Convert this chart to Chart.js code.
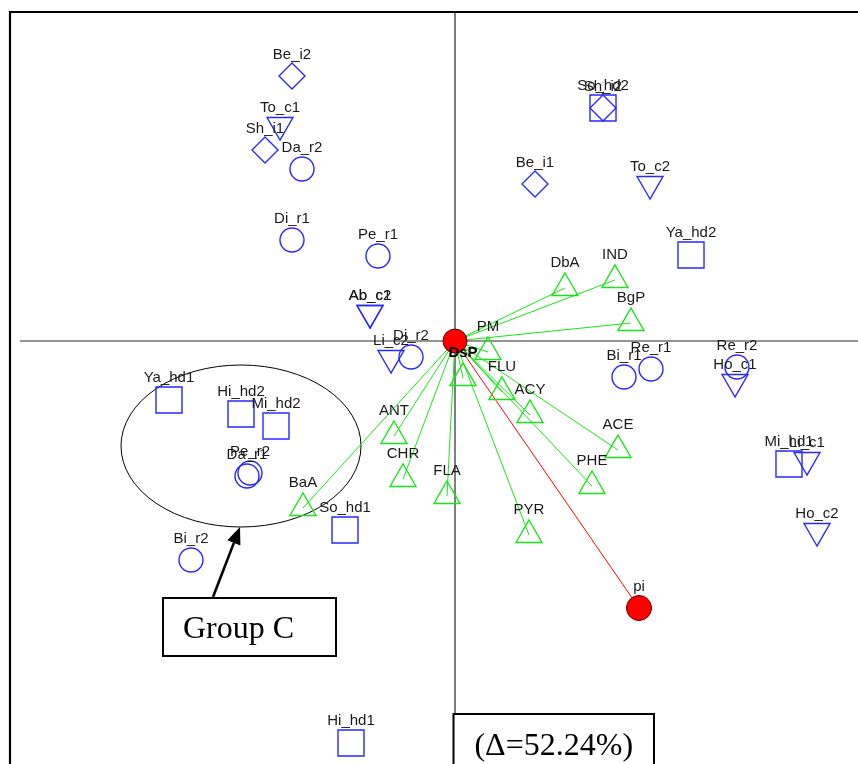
<!DOCTYPE html>
<html>
<head>
<meta charset="utf-8">
<script src="https://cdn.jsdelivr.net/npm/chart.js@4.4.1/dist/chart.umd.min.js"></script>
<style>
  html, body { margin: 0; padding: 0; background: #fff; }
  #wrap { width: 858px; height: 764px; position: relative; }
</style>
</head>
<body>
<div id="wrap"><canvas id="biplot"></canvas></div>
<script>
// Sample scores, grouped by marker shape (biplot units)
const circleNames = ['Da_r2', 'Di_r1', 'Pe_r1', 'Di_r2', 'Bi_r1', 'Re_r1', 'Re_r2', 'Pe_r2', 'Da_r1', 'Bi_r2'];
const circleX = [-1.53, -1.63, -0.77, -0.44, 1.69, 1.96, 2.82, -2.05, -2.08, -2.64];
const circleY = [1.72, 1.01, 0.85, -0.16, -0.36, -0.28, -0.26, -1.32, -1.35, -2.19];

const squareNames = ['So_hd2', 'Ya_hd2', 'Mi_hd1', 'Ya_hd1', 'Hi_hd2', 'Mi_hd2', 'So_hd1', 'Hi_hd1'];
const squareX = [1.48, 2.36, 3.34, -2.86, -2.14, -1.79, -1.10, -1.04];
const squareY = [2.33, 0.86, -1.23, -0.59, -0.73, -0.85, -1.89, -4.02];

const diamondNames = ['Be_i2', 'Sh_i1', 'Sh_i2', 'Be_i1'];
const diamondX = [-1.63, -1.90, 1.48, 0.80];
const diamondY = [2.65, 1.91, 2.33, 1.57];

const downTriNames = ['To_c1', 'To_c2', 'Ab_c1', 'Ab_c2', 'Li_c2', 'Ho_c1', 'Li_c1', 'Ho_c2'];
const downTriX = [-1.75, 1.95, -0.85, -0.85, -0.64, 2.80, 3.52, 3.62];
const downTriY = [2.16, 1.57, 0.28, 0.28, -0.17, -0.41, -1.19, -1.90];

// Variable loadings (PAH compounds and PM), drawn as arrows from the origin
const varNames = ['DbA', 'IND', 'BgP', 'PM', 'DsP', 'FLU', 'ACY', 'ACE', 'PHE', 'PYR', 'FLA', 'CHR', 'ANT', 'BaA'];
const varX = [1.10, 1.60, 1.76, 0.33, 0.08, 0.47, 0.75, 1.63, 1.37, 0.74, -0.08, -0.52, -0.61, -1.52];
const varY = [0.53, 0.61, 0.18, -0.11, -0.37, -0.51, -0.74, -1.09, -1.45, -1.94, -1.55, -1.38, -0.95, -1.67];

// Supplementary variable
const supNames = ['pi'];
const supX = [1.84];
const supY = [-2.67];

const BLUE = 'rgb(40,40,255)';
const GREEN = 'rgb(25,228,25)';
const RED = 'rgb(255,0,0)';
const LABEL_FONT = '"Liberation Sans", Arial, sans-serif';
const SERIF = '"Liberation Serif", "Times New Roman", serif';

const pts = (xs, ys) => xs.map((x, i) => ({ x: x, y: ys[i] }));

function markerSet(names, xs, ys, style, radius, color, offset, extra) {
  return Object.assign({
    data: pts(xs, ys),
    labels: names,
    labelOffset: offset,
    pointStyle: style,
    pointRadius: radius,
    pointBorderColor: color,
    pointBackgroundColor: 'rgba(0,0,0,0)',
    pointBorderWidth: 1.4,
    showLine: false,
    clip: false,
    order: 1
  }, extra || {});
}

const datasets = [];

// green loading arrows
varX.forEach((x, i) => {
  datasets.push({
    data: [{ x: 0, y: 0 }, { x: x, y: varY[i] }],
    showLine: true,
    borderColor: GREEN,
    borderWidth: 1,
    pointRadius: 0,
    clip: false,
    order: 3
  });
});
// red supplementary arrow
supX.forEach((x, i) => {
  datasets.push({
    data: [{ x: 0, y: 0 }, { x: x, y: supY[i] }],
    showLine: true,
    borderColor: RED,
    borderWidth: 1,
    pointRadius: 0,
    clip: false,
    order: 3
  });
});

datasets.push(markerSet(circleNames, circleX, circleY, 'circle', 12, BLUE, 21));
datasets.push(markerSet(squareNames, squareX, squareY, 'rect', 18.4, BLUE, 22));
datasets.push(markerSet(diamondNames, diamondX, diamondY, 'rectRot', 13, BLUE, 21));
datasets.push(markerSet(downTriNames, downTriX, downTriY, 'triangle', 15, BLUE, 17.5, { pointRotation: 180 }));
datasets.push(markerSet(varNames, varX, varY, 'triangle', 15, GREEN, 25.5, { boldLabels: ['DsP'] }));
datasets.push(markerSet(supNames, supX, supY, 'circle', 12.5, '#5a0000', 21, {
  pointBackgroundColor: RED, pointBorderWidth: 1, order: 0
}));
// origin marker
datasets.push({
  data: [{ x: 0, y: 0 }],
  pointStyle: 'circle',
  pointRadius: 12,
  pointBackgroundColor: RED,
  pointBorderColor: '#5a0000',
  pointBorderWidth: 1,
  clip: false,
  order: 0
});

// Frame and axes through the origin, drawn beneath the marks
const axesPlugin = {
  id: 'axesCross',
  beforeDatasetsDraw(chart) {
    const { ctx, scales: { x: xs, y: ys } } = chart;
    const ox = xs.getPixelForValue(0), oy = ys.getPixelForValue(0);
    ctx.save();
    // outer frame (top and left)
    ctx.strokeStyle = '#000';
    ctx.lineWidth = 2.2;
    ctx.beginPath();
    ctx.moveTo(xs.getPixelForValue(-4.45), chart.height + 2);
    ctx.lineTo(xs.getPixelForValue(-4.45), ys.getPixelForValue(3.29));
    ctx.lineTo(chart.width + 2, ys.getPixelForValue(3.29));
    ctx.stroke();
    // axes
    ctx.strokeStyle = '#2a2a2a';
    ctx.lineWidth = 1.2;
    ctx.beginPath();
    ctx.moveTo(xs.getPixelForValue(-4.35), oy);
    ctx.lineTo(chart.width, oy);
    ctx.moveTo(ox, ys.getPixelForValue(3.28));
    ctx.lineTo(ox, chart.height);
    ctx.stroke();
    // Group C ellipse
    ctx.strokeStyle = '#000';
    ctx.lineWidth = 1;
    const cx = xs.getPixelForValue(-2.14), cy = ys.getPixelForValue(-1.05);
    const rx = xs.getPixelForValue(-2.14 + 1.2) - cx;
    const ry = ys.getPixelForValue(-1.05 - 0.81) - cy;
    ctx.beginPath();
    ctx.ellipse(cx, cy, rx, ry, 0, 0, Math.PI * 2);
    ctx.stroke();
    ctx.restore();
  }
};

// Point labels and the annotation boxes
const labelPlugin = {
  id: 'pointLabels',
  afterDatasetsDraw(chart) {
    const { ctx, scales: { x: xs, y: ys } } = chart;
    ctx.save();
    ctx.textAlign = 'center';
    ctx.textBaseline = 'middle';
    chart.data.datasets.forEach(ds => {
      if (!ds.labels) return;
      ds.data.forEach((p, i) => {
        const name = ds.labels[i];
        const bold = ds.boldLabels && ds.boldLabels.includes(name);
        ctx.font = (bold ? 'bold ' : '') + '15px ' + LABEL_FONT;
        ctx.fillStyle = bold ? '#000' : '#1a1a1a';
        ctx.fillText(name, xs.getPixelForValue(p.x), ys.getPixelForValue(p.y) - ds.labelOffset);
      });
    });

    // "Group C" callout box with arrow to the ellipse
    const bx0 = xs.getPixelForValue(-2.92), bx1 = xs.getPixelForValue(-1.19);
    const by0 = ys.getPixelForValue(-2.57), by1 = ys.getPixelForValue(-3.15);
    ctx.fillStyle = '#fff';
    ctx.fillRect(bx0, by0, bx1 - bx0, by1 - by0);
    ctx.strokeStyle = '#000';
    ctx.lineWidth = 2;
    ctx.strokeRect(bx0, by0, bx1 - bx0, by1 - by0);
    ctx.fillStyle = '#000';
    ctx.textAlign = 'left';
    ctx.textBaseline = 'alphabetic';
    ctx.font = '32px ' + SERIF;
    ctx.fillText('Group C', xs.getPixelForValue(-2.72), ys.getPixelForValue(-2.97));

    const ax0 = xs.getPixelForValue(-2.42), ay0 = ys.getPixelForValue(-2.56);
    const ax1 = xs.getPixelForValue(-2.15), ay1 = ys.getPixelForValue(-1.86);
    const ang = Math.atan2(ay1 - ay0, ax1 - ax0);
    const headLen = 17, headHalf = 7;
    const hx = ax1 - Math.cos(ang) * headLen, hy = ay1 - Math.sin(ang) * headLen;
    ctx.lineWidth = 2.6;
    ctx.beginPath();
    ctx.moveTo(ax0, ay0);
    ctx.lineTo(hx, hy);
    ctx.stroke();
    ctx.beginPath();
    ctx.moveTo(ax1, ay1);
    ctx.lineTo(hx + Math.sin(ang) * headHalf, hy - Math.cos(ang) * headHalf);
    ctx.lineTo(hx - Math.sin(ang) * headHalf, hy + Math.cos(ang) * headHalf);
    ctx.closePath();
    ctx.fill();

    // explained-variance box at the bottom
    const dx0 = xs.getPixelForValue(-0.015), dx1 = xs.getPixelForValue(1.99);
    const dy0 = ys.getPixelForValue(-3.73);
    ctx.fillStyle = '#fff';
    ctx.fillRect(dx0, dy0, dx1 - dx0, chart.height - dy0 + 5);
    ctx.strokeStyle = '#000';
    ctx.lineWidth = 2;
    ctx.strokeRect(dx0, dy0, dx1 - dx0, chart.height - dy0 + 5);
    ctx.fillStyle = '#000';
    ctx.textAlign = 'center';
    ctx.font = '32px ' + SERIF;
    ctx.fillText('(\u0394=52.24%)', (dx0 + dx1) / 2, ys.getPixelForValue(-4.14));
    ctx.restore();
  }
};

new Chart(document.getElementById('biplot'), {
  type: 'scatter',
  data: { datasets: datasets },
  options: {
    responsive: true,
    maintainAspectRatio: false,
    devicePixelRatio: 1,
    animation: false,
    events: [],
    layout: { padding: 0, autoPadding: false },
    plugins: { legend: { display: false }, tooltip: { enabled: false } },
    scales: {
      x: { type: 'linear', min: -4.55, max: 4.03, display: false },
      y: { type: 'linear', min: -4.23, max: 3.41, display: false }
    }
  },
  plugins: [axesPlugin, labelPlugin]
});
</script>
</body>
</html>
